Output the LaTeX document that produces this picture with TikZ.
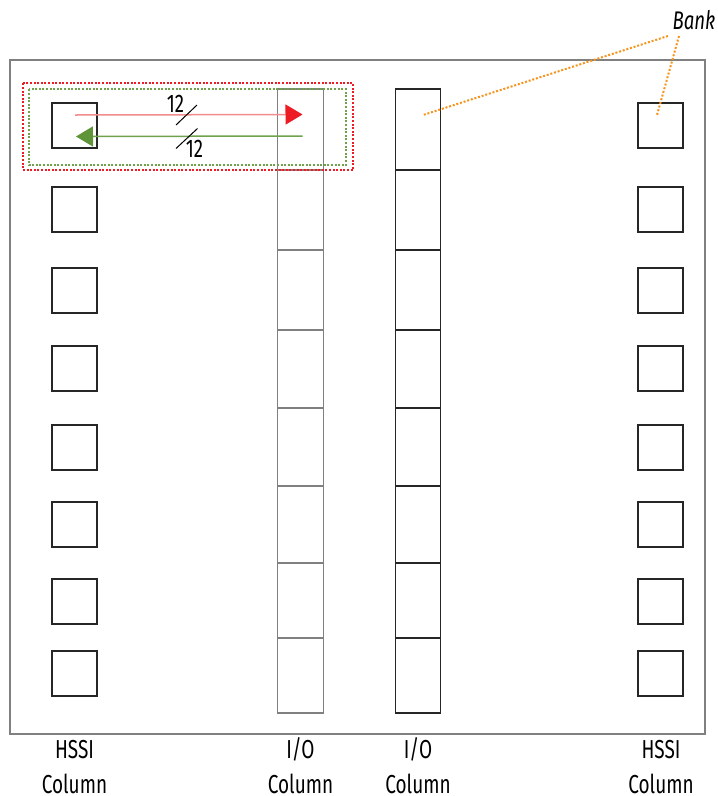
\documentclass[tikz,border=0pt]{standalone}
\usepackage{fontspec}
\setmainfont{Fira Sans}[FakeStretch=0.73]
\usetikzlibrary{arrows.meta,calc}
\definecolor{myred}{HTML}{ED1C24}
\definecolor{mypink}{HTML}{F28B8E}
\definecolor{mygreen}{HTML}{5F9538}
\definecolor{mygreenline}{HTML}{6FA24A}
\definecolor{myorange}{HTML}{F7941D}
\begin{document}
\begin{tikzpicture}[x=1pt,y=-1pt,
  hssi/.style={draw=black!85,line width=1.3pt,minimum width=45pt,minimum height=45pt,inner sep=0pt},
  ioa/.style={draw=black!50,line width=1.4pt,inner sep=0pt},
  iob/.style={draw=black!85,line width=1.3pt,inner sep=0pt},
  lbl/.style={font=\fontsize{26}{30}\selectfont,inner sep=0pt,anchor=base},
  num/.style={font=\fontsize{25.5}{28}\selectfont,inner sep=0pt,anchor=base},
  dotbox/.style={line width=2pt,dash pattern=on 2pt off 1.6pt},
  leader/.style={myorange,line width=2pt,dash pattern=on 2pt off 1.8pt}]
\useasboundingbox (0,0) rectangle (718,796);
\fill[white] (0,0) rectangle (718,796);
% outer chip
\draw[black!50,line width=1.6pt] (10,60) rectangle (705,734);
% HSSI squares
\foreach \y [count=\i] in {103,187,268,346,425,502,579,651}{
  \node[hssi] (L\i) at (74.5,\y+22.5) {};
  \node[hssi] (R\i) at (660.5,\y+22.5) {};
}
% I/O banks
\foreach \t/\b [count=\i] in {89/170,170/250,250/330,330/408,408/486,486/563,563/638,638/713}{
  \node[ioa,minimum width=45.5pt,minimum height={\b-\t}] (A\i) at (300.5,{(\t+\b)/2}) {};
  \node[iob,minimum width=45pt,minimum height={\b-\t}] (B\i) at (418,{(\t+\b)/2}) {};
}
% dotted boxes
\draw[dotbox,myred] (22.7,83.3) rectangle (353.3,169.5);
\draw[dotbox,mygreenline] (28.7,89.3) rectangle (346,165);
% arrows
\coordinate (rs) at ($(L1.center)+(0.5,-10.5)$);
\coordinate (re) at ($(A1.center)+(2,-15)$);
\coordinate (gs) at ($(A1.center)+(2,6.5)$);
\coordinate (ge) at ($(L1.center)+(1.5,11)$);
\draw[mypink,line width=1.5pt,-{Triangle[length=17pt,width=20pt,color=myred,fill=myred]}] (rs) -- (re);
\draw[mygreenline,line width=1.5pt,-{Triangle[length=17pt,width=20pt,color=mygreen,fill=mygreen]}] (gs) -- (ge);
\coordinate (s1a) at (176,125); \coordinate (s1b) at (197,105);
\coordinate (s2a) at (176,148.5); \coordinate (s2b) at (197.5,128.5);
\draw[black,line width=1pt] (s1a) -- (s1b);
\draw[black,line width=1pt] (s2a) -- (s2b);
\node[num] (n1) at (175.5,112) {12};
\node[num] (n2) at (194.5,157) {12};
% Bank label
\node[num,font=\fontsize{25.5}{28}\selectfont\itshape] (bank) at (694,29.5) {Bank};
\coordinate (bk1) at (668,36);
\coordinate (bk2) at (679,36);
\coordinate (t1) at ($(B1.center)+(5,-14.5)$);
\coordinate (t2) at ($(R1.center)+(-3.5,-10.5)$);
\draw[leader] (bk1) -- (t1);
\draw[leader] (bk2) -- (t2);
% column labels
\node[lbl] (c1a) at (74.5,758) {HSSI};
\node[lbl] (c1b) at (74.5,793) {Column};
\node[lbl] (c2a) at (300.5,758) {I/O};
\node[lbl] (c2b) at (300.5,793) {Column};
\node[lbl] (c3a) at (418,758) {I/O};
\node[lbl] (c3b) at (418,793) {Column};
\node[lbl] (c4a) at (661,758) {HSSI};
\node[lbl] (c4b) at (661,793) {Column};
\end{tikzpicture}
\end{document}
